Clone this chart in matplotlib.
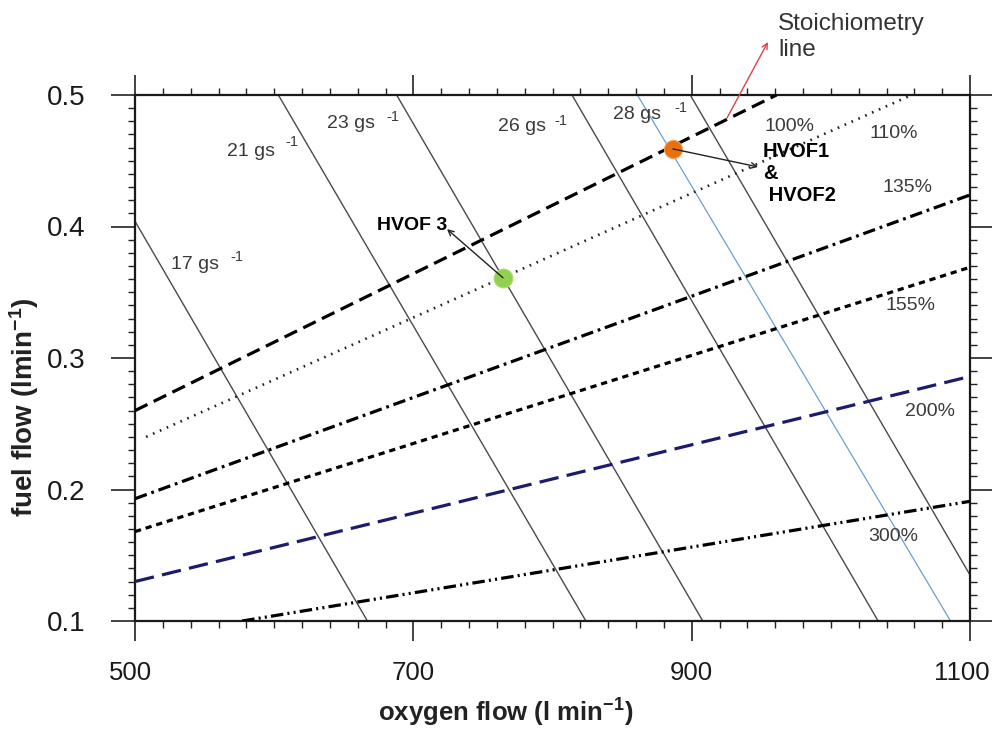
import matplotlib
matplotlib.use("Agg")
import matplotlib.pyplot as plt
import matplotlib.transforms as mtrans
from matplotlib.ticker import MultipleLocator

# ---------------- data ----------------
pct_labels = ['100%', '110%', '135%', '155%', '200%', '300%']
pct_x0 = [500, 508, 500, 500, 500, 577]
pct_y0 = [0.260, 0.240, 0.193, 0.168, 0.130, 0.100]
pct_x1 = [961, 1058, 1100, 1100, 1100, 1100]
pct_y1 = [0.500, 0.500, 0.424, 0.369, 0.286, 0.191]
pct_label_x = [970, 1045, 1055, 1057, 1071, 1045]
pct_label_y = [0.476, 0.471, 0.430, 0.340, 0.259, 0.164]

gs_labels = ['17 gs', '21 gs', '23 gs', '26 gs', '28 gs']
gs_x0 = [500, 603, 688, 814, 899]
gs_y0 = [0.404, 0.500, 0.500, 0.500, 0.500]
gs_x1 = [667, 824, 908, 1034, 1100]
gs_y1 = [0.100, 0.100, 0.100, 0.100, 0.135]
gs_label_x = [543, 583, 655, 778, 861]
gs_label_y = [0.371, 0.457, 0.478, 0.476, 0.485]
gs_sup_x = [573, 613, 685, 806, 892]
gs_sup_y = [0.377, 0.464, 0.483, 0.480, 0.490]

stoich_x = [861, 1086]
stoich_y = [0.500, 0.100]

hvof12_x, hvof12_y = 886.6, 0.459
hvof3_x, hvof3_y = 764.4, 0.361

x_ticks = [500, 700, 900, 1100]
x_ticklabels = ['500', '700', '900', '1100']
y_ticks = [0.1, 0.2, 0.3, 0.4, 0.5]
y_ticklabels = ['0.1', '0.2', '0.3', '0.4', '0.5']

# ---------------- style ----------------
plt.rcParams['font.family'] = ['Liberation Sans', 'DejaVu Sans']
plt.rcParams['mathtext.default'] = 'regular'
plt.rcParams['lines.scale_dashes'] = False

fig = plt.figure(figsize=(9.92, 7.33), dpi=100)
ax = fig.add_axes([135/992, 1-621/733, (970-135)/992, (621-95)/733])

ax.set_xlim(500, 1100)
ax.set_ylim(0.1, 0.5)

txt_col = '#3a3a3a'

# percentage lines
styles = [
    dict(color='black', lw=2.3, dashes=(10, 5)),
    dict(color='#222222', lw=1.9, dashes=(1.2, 4.2)),
    dict(color='black', lw=2.3, dashes=(9, 3.5, 2, 3.5)),
    dict(color='black', lw=2.3, dashes=(4.5, 3.5)),
    dict(color='#1c1c6e', lw=2.3, dashes=(14, 6)),
    dict(color='black', lw=2.3, dashes=(9, 3, 1.5, 3, 1.5, 3)),
]
for i in range(len(pct_labels)):
    ax.plot([pct_x0[i], pct_x1[i]], [pct_y0[i], pct_y1[i]], solid_capstyle='butt',
            dash_capstyle='butt', zorder=3, **styles[i])
    ax.text(pct_label_x[i], pct_label_y[i], pct_labels[i],
            fontsize=14, color=txt_col, ha='center', va='center', zorder=5)

# mass-flow lines
for i in range(len(gs_labels)):
    ax.plot([gs_x0[i], gs_x1[i]], [gs_y0[i], gs_y1[i]], color='#4a4a4a', lw=1.0, zorder=2)
    ax.text(gs_label_x[i], gs_label_y[i], gs_labels[i],
            fontsize=14, color=txt_col, ha='center', va='center', zorder=5)
    ax.text(gs_sup_x[i], gs_sup_y[i], '-1',
            fontsize=10.5, color=txt_col, ha='center', va='center', zorder=5)

# stoichiometry line
ax.plot(stoich_x, stoich_y, color='#6a9fd4', lw=0.9, zorder=2)

# markers
ax.plot([hvof12_x], [hvof12_y], 'o', ms=13, color='#e8700f', mec='#f2a050', mew=0.8, zorder=6)
ax.plot([hvof3_x], [hvof3_y], 'o', ms=13.5, color='#92d050', mec='#a8dc70', mew=0.8, zorder=6)

# annotations
ax.annotate('', xy=(947.7, 0.4453), xytext=(hvof12_x, hvof12_y),
            arrowprops=dict(arrowstyle='->', color='#222222', lw=1.0, shrinkA=0, shrinkB=0), zorder=7)
ax.text(951, 0.4645, 'HVOF1\n&\n HVOF2', fontsize=14.5, fontweight='bold', ha='left', va='top',
        linespacing=1.2, color='black', zorder=7)

ax.annotate('', xy=(724.2, 0.398), xytext=(hvof3_x, hvof3_y),
            arrowprops=dict(arrowstyle='->', color='#222222', lw=1.0, shrinkA=0, shrinkB=0), zorder=7)
ax.text(699, 0.401, 'HVOF 3', fontsize=14, fontweight='bold', ha='center', va='center',
        color='black', zorder=7)

ax.annotate('', xy=(954.8, 0.5403), xytext=(925.4, 0.4825),
            arrowprops=dict(arrowstyle='->', color='#e0404a', lw=1.0, shrinkA=0, shrinkB=0),
            annotation_clip=False, zorder=7)
ax.text(962, 0.5625, 'Stoichiometry\nline', fontsize=17.5, ha='left', va='top', color='#333333',
        linespacing=1.25, clip_on=False)

# ticks and spines
ax.set_xticks(x_ticks)
ax.set_xticklabels(x_ticklabels)
ax.set_yticks(y_ticks)
ax.set_yticklabels(y_ticklabels)
ax.xaxis.set_minor_locator(MultipleLocator(20))
ax.yaxis.set_minor_locator(MultipleLocator(0.01))
ax.tick_params(which='major', direction='out', width=1.2, color='#222222',
               top=True, right=True, labelcolor='#1a1a1a')
ax.tick_params(which='minor', direction='out', length=5, width=1.0, color='#222222',
               top=True, right=True)
ax.tick_params(axis='x', which='major', length=14.5, pad=14, labelsize=18.5)
ax.tick_params(axis='y', which='major', length=17, pad=18.5, labelsize=20)
for s in ax.spines.values():
    s.set_linewidth(1.6)
    s.set_color('#1a1a1a')

# nudge outer x tick labels inward as in the reference
xl = ax.get_xticklabels()
xl[0].set_transform(xl[0].get_transform() + mtrans.ScaledTranslation(-5/100, 0, fig.dpi_scale_trans))
xl[-1].set_transform(xl[-1].get_transform() + mtrans.ScaledTranslation(-8/100, 0, fig.dpi_scale_trans))

ax.set_xlabel('oxygen flow (l min$^{-1}$)', fontsize=18.5, fontweight='bold', color='#222222')
ax.set_ylabel('fuel flow (lmin$^{-1}$)', fontsize=20, fontweight='bold', color='#222222')
ax.xaxis.set_label_coords(0.444, -0.1445)
ax.yaxis.set_label_coords(-0.113, 0.407)

fig.savefig('out.png', dpi=100)
